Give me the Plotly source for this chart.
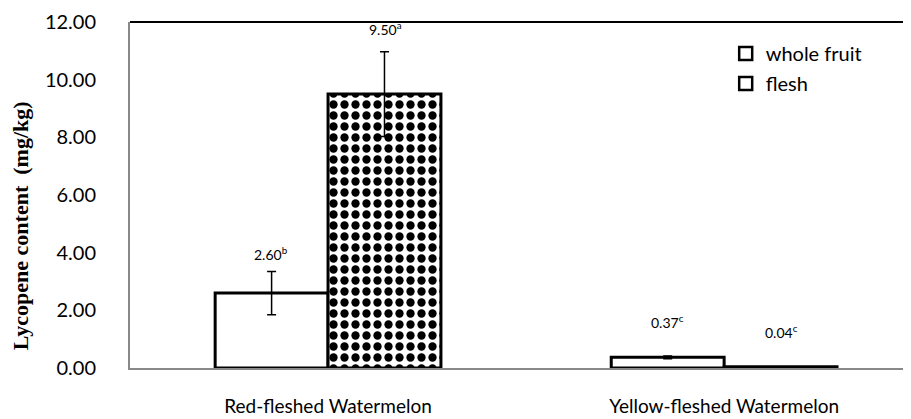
import plotly.graph_objects as go

categories = ["Red-fleshed Watermelon", "Yellow-fleshed Watermelon"]
whole_fruit = [2.60, 0.37]
flesh = [9.50, 0.04]
whole_fruit_err = [0.75, 0.05]
flesh_err = [1.47, 0.0]
whole_fruit_letters = ["b", "c"]
flesh_letters = ["a", "c"]
y_ticks = [0, 2, 4, 6, 8, 10, 12]

LINE = dict(color="black", width=3)

fig = go.Figure()
fig.add_trace(go.Bar(
    name="whole fruit", x=categories, y=whole_fruit,
    marker=dict(color="white", line=LINE),
    error_y=dict(type="data", array=whole_fruit_err, color="black", thickness=1.5, width=4.5),
    showlegend=False,
))
fig.add_trace(go.Bar(
    name="flesh", x=categories, y=flesh,
    marker=dict(color="white", line=LINE,
                pattern=dict(shape=".", fgcolor="black", bgcolor="white", fgopacity=1,
                             size=11, solidity=0.45)),
    error_y=dict(type="data", array=flesh_err, color="black", thickness=1.5, width=4.5),
    showlegend=False,
))
# legend entries (plain outlined squares as in the original)
for name in ["whole fruit", "flesh"]:
    fig.add_trace(go.Scatter(
        x=[None], y=[None], mode="markers", name=name, legendgroup=name,
        marker=dict(symbol="square", size=13, color="white", line=dict(color="black", width=2.5)),
    ))

label_shift = {("whole fruit", 0): 6, ("flesh", 0): 12, ("whole fruit", 1): 23, ("flesh", 1): 24}
for sname, vals, errs, letters, dx in [
    ("whole fruit", whole_fruit, whole_fruit_err, whole_fruit_letters, -57),
    ("flesh", flesh, flesh_err, flesh_letters, 57),
]:
    for i, cat in enumerate(categories):
        fig.add_annotation(
            x=cat, y=vals[i] + errs[i], xshift=dx, yshift=label_shift[(sname, i)],
            text=f"{vals[i]:.2f}<sup>{letters[i]}</sup>", showarrow=False,
            yanchor="bottom", font=dict(family="Lato", size=14, color="black"),
        )

# y-axis title placed as in the original (slightly below centre)
fig.add_annotation(
    xref="paper", yref="paper", x=0, y=0.41, xshift=-110, xanchor="center", yanchor="middle",
    text="<b>Lycopene content  (mg/kg)</b>", textangle=-90, showarrow=False,
    font=dict(family="Liberation Serif", size=22, color="black"),
)

fig.add_shape(type="line", xref="paper", yref="paper", x0=0, x1=1, y0=1, y1=1,
              line=dict(color="black", width=2))

fig.update_layout(
    width=911, height=419,
    margin=dict(l=122, r=0, t=14, b=59),
    paper_bgcolor="white", plot_bgcolor="white",
    barmode="group", bargap=0.43, bargroupgap=0,
    font=dict(family="Lato", size=17, color="black"),
    xaxis=dict(range=[-0.5, 1.492], showline=True, linecolor="#888888", linewidth=2,
               showgrid=False, ticks="", tickfont=dict(size=19), ticklabelstandoff=20),
    yaxis=dict(range=[0, 12], tickvals=y_ticks, tickformat=".2f", showline=True,
               linecolor="#888888", linewidth=2, showgrid=False, zeroline=False, ticks="",
               tickfont=dict(size=20), ticklabelstandoff=28),
    legend=dict(x=0.755, y=0.965, xanchor="left", yanchor="top", bgcolor="rgba(0,0,0,0)",
                font=dict(size=20), itemwidth=30, tracegroupgap=1),
)

fig.write_html("out.html")
